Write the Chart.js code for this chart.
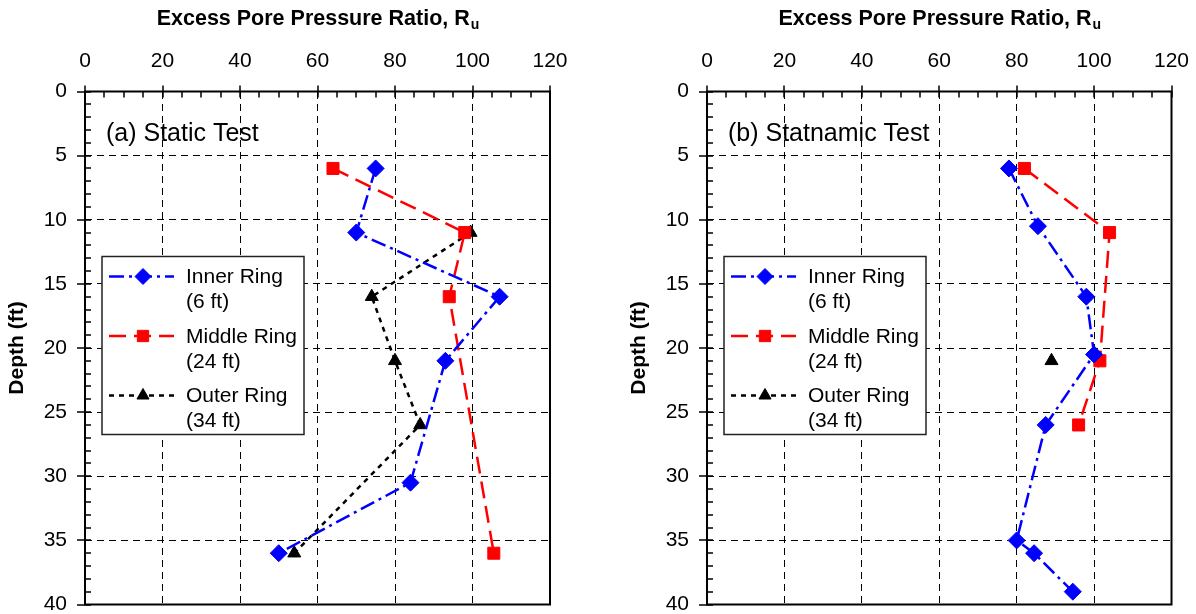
<!DOCTYPE html>
<html>
<head>
<meta charset="utf-8">
<title>Excess Pore Pressure Ratio vs Depth</title>
<script src="https://cdn.jsdelivr.net/npm/chart.js@4.4.3/dist/chart.umd.min.js"></script>
<style>
  html, body { margin: 0; padding: 0; background: #fff; }
  #wrap { position: relative; width: 1196px; height: 614px; overflow: hidden; }
  canvas { position: absolute; top: 0; }
  #chartA { left: 0; }
  #chartB { left: 622px; }
</style>
</head>
<body>
<div id="wrap">
  <canvas id="chartA" width="598" height="614"></canvas>
  <canvas id="chartB" width="574" height="614"></canvas>
</div>
<script>
/* Excess pore pressure ratio (Ru, %) vs depth (ft) — static and statnamic load tests */

const ruTicks    = [0, 20, 40, 60, 80, 100, 120];
const depthTicks = [0, 5, 10, 15, 20, 25, 30, 35, 40];

const seriesNames = ['Inner Ring', 'Middle Ring', 'Outer Ring'];
const seriesDist  = ['(6 ft)', '(24 ft)', '(34 ft)'];

// (a) Static Test
const staticInnerRu      = [75, 70, 107, 93, 84, 50];
const staticInnerDepth   = [6, 11, 16, 21, 30.5, 36];
const staticMiddleRu     = [64, 98, 94, 105.5];
const staticMiddleDepth  = [6, 11, 16, 36];
const staticOuterRu      = [99.5, 74, 80, 86.5, 54];
const staticOuterDepth   = [11, 16, 21, 26, 36];

// (b) Statnamic Test
const statnamicInnerRu     = [78, 85.5, 98, 100, 87.5, 80, 84.5, 94.5];
const statnamicInnerDepth  = [6, 10.5, 16, 20.5, 26, 35, 36, 39];
const statnamicMiddleRu    = [82, 104, 101.5, 96];
const statnamicMiddleDepth = [6, 11, 21, 26];
const statnamicOuterRu     = [89];
const statnamicOuterDepth  = [21];

const FONT = '"Liberation Sans", Arial, Helvetica, sans-serif';
Chart.defaults.font.family = FONT;
Chart.defaults.color = '#000';

const styles = [
  { color: '#0000ff', pointStyle: 'rectRot',  radius: 8.5, dash: [15, 5, 3, 5] },
  { color: '#ff0000', pointStyle: 'rect',     radius: 8.5, dash: [17, 8] },
  { color: '#000000', pointStyle: 'triangle', radius: 7.5, dash: [5, 5] },
];

const zip = (xs, ys) => xs.map((v, i) => ({ x: v, y: ys[i] }));

function makeDatasets(series) {
  return series.map((pts, i) => ({
    label: seriesNames[i],
    data: pts,
    showLine: true,
    borderColor: styles[i].color,
    backgroundColor: styles[i].color,
    borderWidth: 2.5,
    borderDash: styles[i].dash,
    pointStyle: styles[i].pointStyle,
    pointRadius: styles[i].radius,
    pointHoverRadius: styles[i].radius,
    pointBorderWidth: 1,
    tension: 0,
  }));
}

/* frame, major/minor ticks, top title with subscript, panel label, boxed legend */
const panelDecor = {
  id: 'panelDecor',
  afterDraw(chart, args, opts) {
    const { ctx, chartArea: a, scales: { x, y } } = chart;
    ctx.save();
    ctx.setLineDash([]);
    ctx.strokeStyle = '#000';

    // ticks
    ctx.lineWidth = 1.5;
    ctx.beginPath();
    for (let v = 0; v <= 120; v += 5) {
      const px = Math.round(x.getPixelForValue(v));
      const major = v % 20 === 0;
      ctx.moveTo(px, a.top - (major ? 6 : 0));
      ctx.lineTo(px, a.top + 6);
    }
    for (let v = 0; v <= 40; v += 1) {
      const py = Math.round(y.getPixelForValue(v));
      const major = v % 5 === 0;
      ctx.moveTo(a.left - (major ? 8 : 0), py);
      ctx.lineTo(a.left + 6, py);
    }
    ctx.stroke();

    // frame
    ctx.lineWidth = 2;
    ctx.strokeRect(a.left, a.top, a.right - a.left, a.bottom - a.top);

    // top axis title: "Excess Pore Pressure Ratio, R" + subscript u
    const main = 'Excess Pore Pressure Ratio, R';
    ctx.fillStyle = '#000';
    ctx.textBaseline = 'alphabetic';
    ctx.textAlign = 'left';
    ctx.font = 'bold 21.5px ' + FONT;
    const w1 = ctx.measureText(main).width;
    ctx.font = 'bold 14px ' + FONT;
    const w2 = ctx.measureText('u').width;
    const tx = (a.left + a.right) / 2 - (w1 + w2) / 2;
    ctx.font = 'bold 21.5px ' + FONT;
    ctx.fillText(main, tx, 25);
    ctx.font = 'bold 14px ' + FONT;
    ctx.fillText('u', tx + w1 + 1, 29);

    // panel label
    ctx.font = '25px ' + FONT;
    ctx.textBaseline = 'middle';
    ctx.fillText(opts.label, a.left + 21, 134);

    // legend box
    const bx = a.left + 17, by = a.top + 165, bw = 202, bh = 178;
    ctx.fillStyle = '#fff';
    ctx.fillRect(bx, by, bw, bh);
    ctx.lineWidth = 1.5;
    ctx.strokeStyle = '#222';
    ctx.strokeRect(bx, by, bw, bh);

    ctx.font = '21px ' + FONT;
    seriesNames.forEach((name, i) => {
      const st = styles[i];
      const ly = by + 20 + i * 59.5;
      ctx.strokeStyle = st.color;
      ctx.lineWidth = 2.5;
      ctx.setLineDash(st.dash);
      ctx.beginPath();
      ctx.moveTo(bx + 7, ly);
      ctx.lineTo(bx + 72, ly);
      ctx.stroke();
      ctx.setLineDash([]);
      ctx.fillStyle = st.color;
      ctx.strokeStyle = st.color;
      ctx.lineWidth = 1;
      Chart.helpers.drawPoint(ctx, { pointStyle: st.pointStyle, radius: st.radius - 0.5, rotation: 0, borderWidth: 1 }, bx + 41, ly);
      ctx.fillStyle = '#000';
      ctx.textBaseline = 'middle';
      ctx.fillText(name, bx + 84, ly + 1);
      ctx.fillText(seriesDist[i], bx + 84, ly + 26);
    });
    ctx.restore();
  }
};

function makeChart(id, series, label, padRight) {
  return new Chart(document.getElementById(id), {
    type: 'scatter',
    data: { datasets: makeDatasets(series) },
    plugins: [panelDecor],
    options: {
      responsive: false,
      animation: false,
      layout: { padding: { left: 0, top: 0, right: padRight, bottom: 8.5 } },
      plugins: {
        legend: { display: false },
        tooltip: { enabled: false },
        panelDecor: { label },
      },
      scales: {
        x: {
          type: 'linear',
          position: 'top',
          min: 0, max: 120,
          afterBuildTicks: s => { s.ticks = ruTicks.map(v => ({ value: v })); },
          afterFit: s => { s.height = 91.5; s.paddingLeft = 0; s.paddingRight = 0; },
          ticks: { font: { size: 21 }, color: '#000', padding: 18, maxRotation: 0 },
          grid: { color: '#000', lineWidth: 1, drawTicks: false },
          border: { display: false, dash: [7, 5] },
          title: { display: false },
        },
        y: {
          type: 'linear',
          reverse: true,
          min: 0, max: 40,
          afterBuildTicks: s => { s.ticks = depthTicks.map(v => ({ value: v })); },
          afterFit: s => { s.width = 85; s.paddingTop = 0; s.paddingBottom = 0; },
          ticks: { font: { size: 21 }, color: '#000', padding: 18 },
          grid: { color: '#000', lineWidth: 1, drawTicks: false },
          border: { display: false, dash: [7, 5] },
          title: { display: true, text: 'Depth (ft)', font: { size: 21, weight: 'bold' }, color: '#000', padding: { top: 5, bottom: 0 } },
        },
      },
    },
  });
}

makeChart('chartA', [
  zip(staticInnerRu, staticInnerDepth),
  zip(staticMiddleRu, staticMiddleDepth),
  zip(staticOuterRu, staticOuterDepth),
], '(a) Static Test', 48);

makeChart('chartB', [
  zip(statnamicInnerRu, statnamicInnerDepth),
  zip(statnamicMiddleRu, statnamicMiddleDepth),
  zip(statnamicOuterRu, statnamicOuterDepth),
], '(b) Statnamic Test', 24.5);
</script>
</body>
</html>
